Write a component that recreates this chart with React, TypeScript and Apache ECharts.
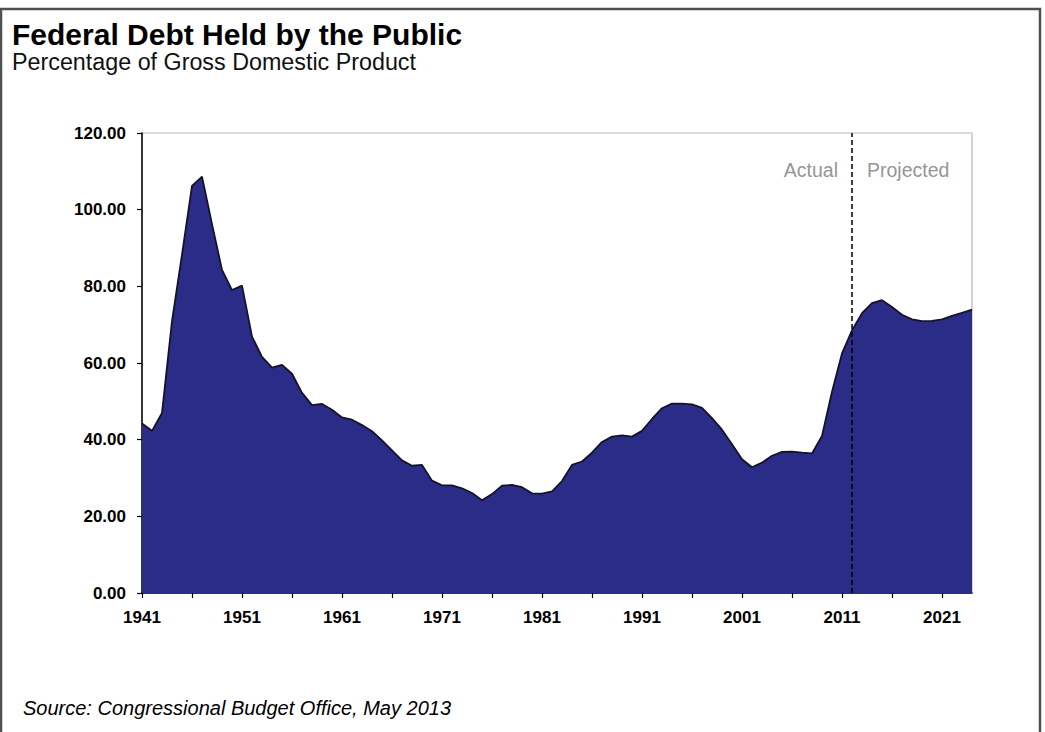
import React, { useEffect, useRef } from "react";
import * as echarts from "echarts";

const FONT = "'Liberation Sans', Arial, Helvetica, sans-serif";

const years: string[] = Array.from({ length: 84 }, (_, i) => String(1941 + i));

// Federal debt held by the public, % of GDP
const debtShare: number[] = [
  44.2, 42.3, 47.0, 70.9, 88.3, 106.2, 108.6, 96.2, 84.3, 79.0,
  80.2, 66.9, 61.6, 58.8, 59.5, 57.2, 52.2, 49.0, 49.3, 47.8,
  45.8, 45.2, 43.8, 42.2, 39.8, 37.2, 34.6, 33.2, 33.4, 29.3,
  28.1, 28.1, 27.3, 26.1, 24.2, 25.8, 28.0, 28.2, 27.6, 26.0,
  25.9, 26.5, 29.2, 33.4, 34.3, 36.6, 39.4, 40.8, 41.1, 40.8,
  42.3, 45.4, 48.2, 49.4, 49.4, 49.2, 48.3, 45.6, 42.6, 38.8,
  34.9, 32.8, 34.0, 35.8, 36.8, 36.9, 36.6, 36.4, 41.0, 52.5,
  62.5, 68.5, 73.0, 75.6, 76.4, 74.6, 72.6, 71.4, 70.9, 71.0,
  71.4, 72.3, 73.1, 73.9,
];

const splitYear = "2012";
const titleText = "Federal Debt Held by the Public";
const subtitleText = "Percentage of Gross Domestic Product";
const sourceText = "Source: Congressional Budget Office, May 2013";
const actualLabel = "Actual";
const projectedLabel = "Projected";

export default function App() {
  const ref = useRef<HTMLDivElement>(null);

  useEffect(() => {
    if (!ref.current) return;
    const chart = echarts.init(ref.current, null, { renderer: "svg" });
    chart.setOption({
      animation: false,
      backgroundColor: "#ffffff",
      grid: {
        left: 142,
        top: 133,
        width: 830,
        height: 460,
        show: true,
        borderColor: "#c4b4b0",
        borderWidth: 1.2,
        backgroundColor: "transparent",
      },
      xAxis: {
        type: "category",
        data: years,
        boundaryGap: false,
        axisLine: { show: true, lineStyle: { color: "#000", width: 1.5 } },
        axisTick: {
          show: true,
          interval: 4,
          length: 5,
          lineStyle: { color: "#000", width: 1.2 },
        },
        axisLabel: {
          interval: 9,
          margin: 16,
          color: "#000",
          fontFamily: FONT,
          fontWeight: "bold",
          fontSize: 17,
        },
        splitLine: { show: false },
      },
      yAxis: {
        type: "value",
        min: 0,
        max: 120,
        interval: 20,
        axisLine: { show: true, lineStyle: { color: "#000", width: 1.5 } },
        axisTick: { show: true, length: 5, lineStyle: { color: "#000", width: 1.2 } },
        axisLabel: {
          margin: 16,
          color: "#000",
          fontFamily: FONT,
          fontWeight: "bold",
          fontSize: 17,
          formatter: (v: number) => v.toFixed(2),
        },
        splitLine: { show: false },
      },
      series: [
        {
          type: "line",
          data: debtShare,
          symbol: "none",
          smooth: false,
          lineStyle: { color: "#141428", width: 1.8 },
          areaStyle: { color: "#2b2b88", opacity: 1 },
          markLine: {
            silent: true,
            symbol: "none",
            label: { show: false },
            lineStyle: { color: "#000", type: [5, 3], width: 1.5 },
            data: [{ xAxis: splitYear }],
          },
          z: 2,
        },
      ],
      graphic: [
        {
          type: "rect",
          shape: { x: 1, y: 9, width: 1039, height: 760 },
          style: { fill: "none", stroke: "#505050", lineWidth: 2.5 },
          silent: true,
        },
        {
          type: "text",
          left: 12,
          top: 19,
          style: {
            text: titleText,
            font: `bold 30px ${FONT}`,
            fill: "#000",
          },
        },
        {
          type: "text",
          left: 12,
          top: 50,
          style: {
            text: subtitleText,
            font: `23.3px ${FONT}`,
            fill: "#111",
          },
        },
        {
          type: "text",
          x: 838,
          y: 170,
          style: {
            text: actualLabel,
            font: `19.5px ${FONT}`,
            fill: "#9a9494",
            align: "right",
            verticalAlign: "middle",
          },
        },
        {
          type: "text",
          x: 867,
          y: 170,
          style: {
            text: projectedLabel,
            font: `19.5px ${FONT}`,
            fill: "#9a9494",
            align: "left",
            verticalAlign: "middle",
          },
        },
        {
          type: "text",
          x: 23,
          y: 708,
          style: {
            text: sourceText,
            font: `italic 20px ${FONT}`,
            fill: "#000",
            align: "left",
            verticalAlign: "middle",
          },
        },
      ],
    });
    return () => chart.dispose();
  }, []);

  return (
    <div
      ref={ref}
      style={{ position: "absolute", left: 0, top: 0, width: 1045, height: 732 }}
    />
  );
}
